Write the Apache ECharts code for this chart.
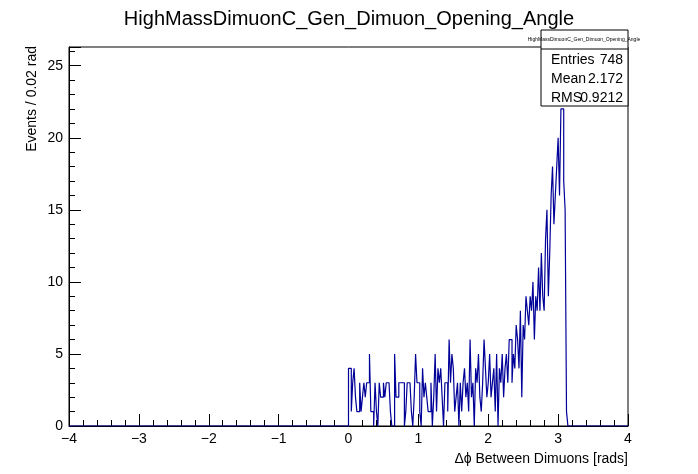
<!DOCTYPE html>
<html>
<head>
<meta charset="utf-8">
<script src="https://cdn.jsdelivr.net/npm/echarts@6/dist/echarts.min.js"></script>
<style>body{margin:0;background:#fff}#c{width:698px;height:474px}</style>
</head>
<body>
<div id="c"></div>
<script>
const binWidth = 0.02;
const xMin = -4;
const firstFilledBin = 200; // x = 0
// counts per bin from x = 0 to 3.14
const counts = [
	4,4,1,3,4,2,1,1,3,1,2,3,2,3,3,5,1,1,0,3,1,0,3,2,2,3,2,3,3,3,1,0,0,5,2,2,3,3,3,3,0,1,3,3,3,1,0,2,5,3,
	3,1,0,4,2,3,2,1,1,3,0,2,5,1,4,3,4,2,0,3,3,1,6,3,5,4,1,2,3,0,3,1,3,4,2,3,1,6,2,3,0,4,3,5,2,1,3,6,4,2,
	3,5,2,3,4,1,5,0,4,3,5,2,4,5,3,6,6,3,5,4,7,6,4,8,2,
	7,6,9,8,7,9,8,10,6,9,8,11,8,12,9,
	8,13,15,9,12,16,18,14,16,18,
	20,16,22,22,17,15,1
];
const statLabels = ["Entries", "Mean", "RMS"];
const statValues = ["748", "2.172", "0.9212"];

const nBins = 400;
const points = [];
for (let i = 0; i < nBins; i++) {
	const k = i - firstFilledBin;
	const v = k >= 0 && k < counts.length ? counts[k] : 0;
	points.push([xMin + i * binWidth, v]);
}
points.push([xMin + nBins * binWidth, 0]);

const chart = echarts.init(document.getElementById("c"));
const font = "Liberation Sans, Arial, sans-serif";
const statGraphics = [
	{ type: "rect", z: 100, shape: { x: 541, y: 30, width: 87, height: 76 }, style: { fill: "#fff", stroke: "#000", lineWidth: 1 } },
	{ type: "line", z: 101, shape: { x1: 541, y1: 49, x2: 628, y2: 49 }, style: { stroke: "#000", lineWidth: 1 } },
	{ type: "text", z: 101, style: { text: "HighMassDimuonC_Gen_Dimuon_Opening_Angle", x: 584, y: 40, align: "center", verticalAlign: "middle", fontSize: 5, fontFamily: font, fill: "#000" } },
	{ type: "text", z: 101, rotation: Math.PI / 2, x: 32, y: 46, style: { text: "Events / 0.02 rad", align: "right", verticalAlign: "middle", fontSize: 14, fontFamily: font, fill: "#000" } }
];
statLabels.forEach((lab, i) => {
	const y = 60 + i * 19;
	statGraphics.push({ type: "text", z: 101, style: { text: lab, x: 551, y: y, verticalAlign: "middle", fontSize: 14, fontFamily: font, fill: "#000" } });
	statGraphics.push({ type: "text", z: 101, style: { text: statValues[i], x: 623, y: y, align: "right", verticalAlign: "middle", fontSize: 14, fontFamily: font, fill: "#000" } });
});

chart.setOption({
	animation: false,
	title: {
		text: "HighMassDimuonC_Gen_Dimuon_Opening_Angle",
		left: "center", top: 4,
		textStyle: { fontSize: 20, fontWeight: "normal", fontFamily: font, color: "#000" }
	},
	grid: { left: 69, right: 70, top: 47, bottom: 48, show: true, borderColor: "#000", borderWidth: 1 },
	xAxis: {
		type: "value", min: -4, max: 4, interval: 1,
		name: "Δϕ Between Dimuons [rads]", nameLocation: "end", nameGap: 0,
		nameTextStyle: { fontSize: 14, fontFamily: font, color: "#000", align: "right", verticalAlign: "top", padding: [26, 0, 0, 0] },
		axisLine: { onZero: false, lineStyle: { color: "#000" } },
		axisTick: { inside: true, length: 12, lineStyle: { color: "#000" } },
		minorTick: { show: true, splitNumber: 5, length: 6, lineStyle: { color: "#000" } },
		axisLabel: { fontSize: 14, fontFamily: font, color: "#000", margin: 6, formatter: v => (v < 0 ? "\u2212" + (-v) : v) },
		splitLine: { show: false }
	},
	yAxis: {
		type: "value", min: 0, max: 26.3, interval: 5,
		axisLine: { onZero: false, lineStyle: { color: "#000" } },
		axisTick: { inside: true, length: 12, lineStyle: { color: "#000" } },
		minorTick: { show: true, splitNumber: 5, length: 6, lineStyle: { color: "#000" } },
		axisLabel: { fontSize: 14, fontFamily: font, color: "#000", margin: 6, showMaxLabel: false },
		splitLine: { show: false }
	},
	series: [{
		type: "line", step: "end", data: points, symbol: "none",
		lineStyle: { color: "#000099", width: 1.2 }
	}],
	graphic: statGraphics
});
</script>
</body>
</html>
